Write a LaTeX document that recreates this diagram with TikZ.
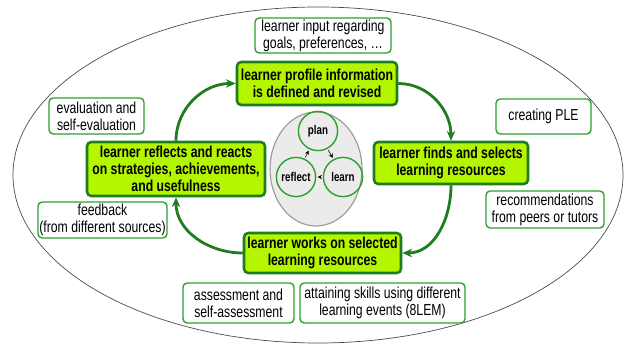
\documentclass[tikz,border=0pt]{standalone}
\usepackage{fontspec}
\setmainfont{Liberation Sans}[FakeStretch=0.77]
\usetikzlibrary{arrows.meta}

\definecolor{lime}{HTML}{B4F500}
\definecolor{darkgr}{HTML}{1E7D1E}
\definecolor{boxgr}{HTML}{2EA02E}

\tikzset{
  stage/.style={draw=darkgr, line width=1.8pt, fill=lime, rounded corners=3pt,
    align=center, inner sep=1pt, font=\fontsize{11.3}{12.2}\selectfont\bfseries},
  note/.style={draw=boxgr, line width=1pt, fill=white, rounded corners=3pt,
    align=center, inner sep=1pt, font=\fontsize{11.3}{12.2}\selectfont},
  phase/.style={circle, draw=boxgr, line width=1pt, minimum size=0.98cm, inner sep=0pt,
    font=\fontsize{9}{10}\selectfont\bfseries},
  cycle/.style={draw=darkgr, line width=2pt, -{Stealth[length=7pt,width=6pt]}},
}

\begin{document}
\begin{tikzpicture}
 \useasboundingbox (0,0) rectangle (15.6,8.575);
 \draw [gray!60!black, line width=0.5pt] (7.95,4.2) ellipse [x radius=7.625, y radius=4.2];
 \draw [gray!80, line width=0.8pt, fill=black!8] (7.9,4.35) ellipse [x radius=1.15, y radius=1.425];

 \node [stage, minimum width=4cm, minimum height=1.075cm] (profile) at (7.925,6.4875) {learner profile information\\is defined and revised};
 \node [stage, minimum width=3.85cm, minimum height=1.05cm] (finds) at (11.275,4.5) {learner finds and selects\\learning resources};
 \node [stage, minimum width=3.925cm, minimum height=1cm] (works) at (8.0625,2.25) {learner works on selected\\learning resources};
 \node [stage, minimum width=4.45cm, minimum height=1.35cm] (reflects) at (4.4,4.35) {learner reflects and reacts\\on strategies, achievements,\\and usefulness};

 \node [note, minimum width=3.4cm, minimum height=0.875cm] (input) at (8.075,7.6875) {learner input regarding\\goals, preferences, \dots};
 \node [note, minimum width=2.375cm, minimum height=0.9cm] (evaluation) at (2.4125,5.675) {evaluation and\\self-evaluation};
 \node [note, minimum width=2.375cm, minimum height=0.875cm] (ple) at (13.5875,5.6625) {creating PLE};
 \node [note, minimum width=3.175cm, minimum height=0.9cm] (feedback) at (2.5625,3.075) {feedback\\(from different sources)};
 \node [note, minimum width=2.95cm, minimum height=0.925cm] (recommend) at (13.625,3.3375) {recommendations\\from peers or tutors};
 \node [note, minimum width=2.775cm, minimum height=1cm] (assess) at (5.9625,1) {assessment and\\self-assessment};
 \node [note, minimum width=4.125cm, minimum height=1cm] (attain) at (9.5625,1) {attaining skills using different\\learning events (8LEM)};

 \node [phase] (plan) at (7.95,5.3) {plan};
 \node [phase] (learn) at (8.575,4.15) {learn};
 \node [phase] (reflect) at (7.4,4.15) {reflect};
 \draw [-{Stealth[length=3pt,width=3pt]}, shorten >=1pt, shorten <=1pt] (plan) -- (learn);
 \draw [-{Stealth[length=3pt,width=3pt]}, shorten >=1pt, shorten <=1pt] (learn) -- (reflect);
 \draw [-{Stealth[length=3pt,width=3pt]}, shorten >=1pt, shorten <=1pt] (reflect) -- (plan);

 \draw [cycle] (reflects.north) to [out=90, in=180] (profile.west);
 \draw [cycle] (profile.east) to [out=0, in=90] (finds.north);
 \draw [cycle] (finds.south) to [out=-90, in=0] (works.east);
 \draw [cycle] (works.west) to [out=180, in=-90] (reflects.south);
\end{tikzpicture}
\end{document}
